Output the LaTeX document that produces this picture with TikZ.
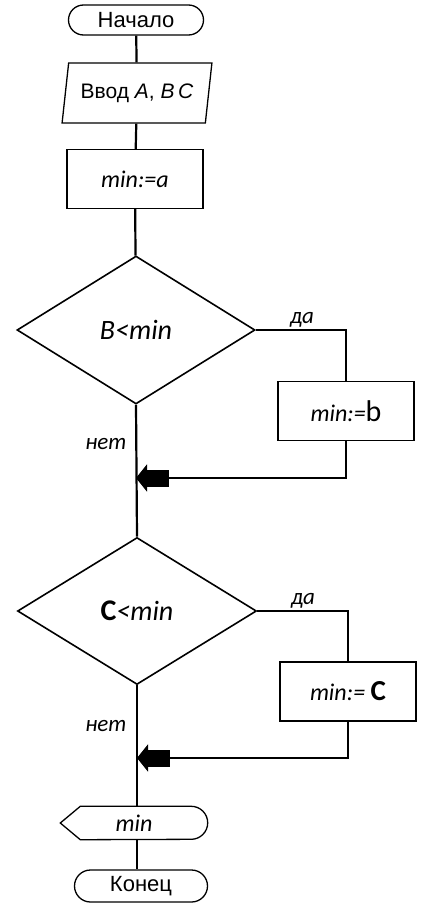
\documentclass[tikz,border=0pt]{standalone}
\usepackage{fontspec}
\setmainfont{Liberation Sans}
\newfontfamily\calfont{Carlito}
\usepackage{tikz}
\usetikzlibrary{shapes,arrows.meta,positioning,calc,shapes.geometric}

\begin{document}
\begin{tikzpicture}[
        x=1pt, y=-1pt,
        terminal/.style={draw, line width=1.3pt, rounded corners=15pt, minimum width=135pt, minimum height=30pt, inner sep=0pt, font=\fontsize{22}{24}\selectfont},
        inbox/.style={draw, line width=1.3pt, trapezium, trapezium left angle=74, trapezium right angle=106, trapezium stretches=true, minimum width=150pt, minimum height=60pt, inner sep=0pt, font=\fontsize{21}{24}\selectfont},
        process/.style={draw, line width=1.3pt, rectangle, minimum width=136pt, minimum height=59pt, inner sep=0pt, font=\calfont\itshape\fontsize{24}{26}\selectfont},
        decision/.style={draw, line width=1.6pt, diamond, minimum width=238pt, minimum height=148pt, inner sep=0pt, font=\calfont\itshape\fontsize{28}{30}\selectfont},
        lbl/.style={font=\calfont\itshape\fontsize{23}{25}\selectfont, inner sep=0pt},
        flow/.style={line width=2.2pt},
        mergearrow/.style={line width=2.2pt, -{Rectangle[length=22pt,width=17pt]Triangle[length=11pt,width=27pt]}}
    ]
        \useasboundingbox (0,0) rectangle (445,915);

        % Main column
        \node[terminal] (start) at (136,20) {Начало};
        \node[inbox] (input) at (137,93) {Ввод \textit{A}, \textit{B\,C}};
        \node[process] (init) at (135,179) {min:=a};

        % First check
        \node[decision] (d1) at (136,330) {B<min};
        \node[process] (b1) at (346,411) {min:={\upshape\fontsize{30}{30}\selectfont b}};
        \coordinate (j1) at (136,478);
        \node[lbl] (yes1) at (302,320) {да};
        \node[lbl] (no1) at (106,444) {нет};

        % Second check
        \node[decision, minimum width=239pt, minimum height=147pt] (d2) at (137,611) {{\upshape\bfseries\fontsize{30}{30}\selectfont C}<min};
        \node[process] (b2) at (348,691.5) {min:= {\upshape\bfseries\fontsize{29}{30}\selectfont C}};
        \coordinate (j2) at (137,758);
        \node[lbl] (yes2) at (303,601) {да};
        \node[lbl] (no2) at (106,726) {нет};

        % Output and end
        \node[minimum width=147pt, minimum height=33pt, inner sep=0pt, font=\calfont\itshape\fontsize{24}{26}\selectfont] (out) at (134,823) {min};
        \draw[line width=1.3pt] ($(out.north west)+(20,0)$) -- ($(out.north east)+(-16.5,0)$)
            arc[start angle=90, end angle=-90, radius=16.5pt]
            -- ($(out.south west)+(20,0)$) -- (out.west) -- cycle;
        \node[terminal, minimum width=133pt, minimum height=32pt, rounded corners=16pt] (end) at (141,886) {Конец};

        % Connections
        \draw[flow] (start) -- (input);
        \draw[flow] (input) -- (init);
        \draw[flow] (init) -- (d1);
        \draw[flow] (d1.east) -| (b1.north);
        \draw[mergearrow] (b1.south) |- (j1);
        \draw[flow] (d1.south) -- (d2.north);
        \draw[flow] (d2.east) -| (b2.north);
        \draw[mergearrow] (b2.south) |- (j2);
        \draw[flow] (d2.south) -- (d2.south |- out.north);
        \draw[flow] (d2.south |- out.south) -- (d2.south |- end.north);
    \end{tikzpicture}
\end{document}
